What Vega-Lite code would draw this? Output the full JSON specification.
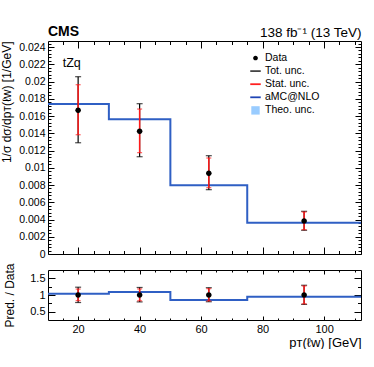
{
  "$schema": "https://vega.github.io/schema/vega-lite/v6.json",
  "padding": {"left": 0, "top": 24, "right": 0, "bottom": 0},
  "background": "white",
  "spacing": 16,
  "bounds": "flush",
  "config": {
    "font": "Liberation Sans",
    "view": {"stroke": null},
    "axis": {"grid": false, "domainColor": "black", "domainWidth": 1, "tickColor": "black", "tickWidth": 1, "labelColor": "black", "titleColor": "black", "labelFont": "Liberation Sans", "titleFont": "Liberation Sans", "labelFontSize": 10.5, "titleFontSize": 12, "titleFontWeight": "normal", "labelOverlap": false, "labelFlush": false, "labelPadding": 3}
  },
  "datasets": {
    "top_pts": [
      {"x": 20, "y": 0.01666, "tot_lo": 0.0129, "tot_hi": 0.02056, "stat_lo": 0.01383, "stat_hi": 0.01963, "series": "Data"},
      {"x": 40, "y": 0.01422, "tot_lo": 0.01128, "tot_hi": 0.01743, "stat_lo": 0.01175, "stat_hi": 0.01681, "series": "Data"},
      {"x": 62.5, "y": 0.00935, "tot_lo": 0.00746, "tot_hi": 0.0114, "stat_lo": 0.00769, "stat_hi": 0.01113, "series": "Data"},
      {"x": 93.5, "y": 0.00383, "tot_lo": 0.00275, "tot_hi": 0.00495, "stat_lo": 0.00282, "stat_hi": 0.00487, "series": "Data"}
    ],
    "top_pred": [
      {"x": 0, "y": 0.01739}, {"x": 30, "y": 0.01562}, {"x": 50, "y": 0.00797}, {"x": 75, "y": 0.00363}, {"x": 120, "y": 0.00363}
    ],
    "ratio_pts": [
      {"x": 20, "y": 1, "tot_lo": 0.774, "tot_hi": 1.234, "stat_lo": 0.83, "stat_hi": 1.178},
      {"x": 40, "y": 1, "tot_lo": 0.793, "tot_hi": 1.226, "stat_lo": 0.826, "stat_hi": 1.182},
      {"x": 62.5, "y": 1, "tot_lo": 0.798, "tot_hi": 1.219, "stat_lo": 0.822, "stat_hi": 1.19},
      {"x": 93.5, "y": 1, "tot_lo": 0.718, "tot_hi": 1.292, "stat_lo": 0.736, "stat_hi": 1.271}
    ],
    "ratio_pred": [
      {"x": 0, "y": 1.04}, {"x": 30, "y": 1.09}, {"x": 50, "y": 0.85}, {"x": 75, "y": 0.95}, {"x": 120, "y": 0.95}
    ],
    "label": [{"x": 15, "y": 0.0217, "t": "tZq"}]
  },
  "vconcat": [
    {
      "width": 313,
      "height": 213,
      "title": {"text": "CMS", "anchor": "start", "frame": "group", "fontSize": 14, "fontWeight": "bold", "font": "Liberation Sans", "color": "black", "dy": 13, "offset": 0},
      "resolve": {"axis": {"x": "independent", "y": "independent"}},
      "layer": [
        {
          "data": {"name": "top_pred"},
          "mark": {"type": "line", "interpolate": "step-after", "color": "#2f5fc4", "strokeWidth": 2, "clip": true},
          "encoding": {
            "x": {"field": "x", "type": "quantitative", "scale": {"domain": [10.2, 112], "nice": false, "zero": false},
              "axis": {"orient": "bottom", "values": [20, 40, 60, 80, 100], "tickSize": -7, "labels": false, "title": null}},
            "y": {"field": "y", "type": "quantitative", "scale": {"domain": [0, 0.0247], "nice": false, "zero": false},
              "axis": {"orient": "left", "values": [0, 0.002, 0.004, 0.006, 0.008, 0.01, 0.012, 0.014, 0.016, 0.018, 0.02, 0.022, 0.024], "tickSize": -6, "labelPadding": 9, "format": "~g", "title": "1/σ dσ/dpᴛ(ℓᴡ) [1/GeV]", "titleAnchor": "end", "titlePadding": 5}}
          }
        },
        {
          "data": {"name": "top_pts"},
          "mark": {"type": "rule", "color": "black", "strokeWidth": 1.2},
          "encoding": {
            "x": {"field": "x", "type": "quantitative", "scale": {"domain": [10.2, 112], "nice": false, "zero": false},
              "axis": {"orient": "top", "values": [20, 40, 60, 80, 100], "tickSize": -7, "labels": false, "title": "138 fb⁻¹ (13 TeV)", "titleAnchor": "end", "titleFontSize": 13.5, "titlePadding": 4, "titleBaseline": "alphabetic"}},
            "y": {"field": "tot_lo", "type": "quantitative", "scale": {"domain": [0, 0.0247], "nice": false, "zero": false},
              "axis": {"orient": "right", "values": [0, 0.002, 0.004, 0.006, 0.008, 0.01, 0.012, 0.014, 0.016, 0.018, 0.02, 0.022, 0.024], "tickSize": -6, "labels": false, "title": null}},
            "y2": {"field": "tot_hi"}
          }
        },
        {
          "data": {"name": "top_pts"},
          "mark": {"type": "tick", "orient": "horizontal", "color": "black", "size": 6, "thickness": 1.2},
          "encoding": {
            "x": {"field": "x", "type": "quantitative", "scale": {"domain": [10.2, 112], "nice": false, "zero": false},
              "axis": {"orient": "bottom", "values": [15, 25, 30, 35, 45, 50, 55, 65, 70, 75, 85, 90, 95, 105, 110], "tickSize": -3.5, "labels": false, "domain": false, "title": null}},
            "y": {"field": "tot_lo", "type": "quantitative", "scale": {"domain": [0, 0.0247], "nice": false, "zero": false},
              "axis": {"orient": "left", "values": [0.0004, 0.0008, 0.0012, 0.0016, 0.0024, 0.0028, 0.0032, 0.0036, 0.0044, 0.0048, 0.0052, 0.0056, 0.0064, 0.0068, 0.0072, 0.0076, 0.0084, 0.0088, 0.0092, 0.0096, 0.0104, 0.0108, 0.0112, 0.0116, 0.0124, 0.0128, 0.0132, 0.0136, 0.0144, 0.0148, 0.0152, 0.0156, 0.0164, 0.0168, 0.0172, 0.0176, 0.0184, 0.0188, 0.0192, 0.0196, 0.0204, 0.0208, 0.0212, 0.0216, 0.0224, 0.0228, 0.0232, 0.0236, 0.0244], "tickSize": -3, "labels": false, "domain": false, "title": null}}
          }
        },
        {
          "data": {"name": "top_pts"},
          "mark": {"type": "tick", "orient": "horizontal", "color": "black", "size": 6, "thickness": 1.2},
          "encoding": {
            "x": {"field": "x", "type": "quantitative", "scale": {"domain": [10.2, 112], "nice": false, "zero": false},
              "axis": {"orient": "top", "values": [15, 25, 30, 35, 45, 50, 55, 65, 70, 75, 85, 90, 95, 105, 110], "tickSize": -3.5, "labels": false, "domain": false, "title": null}},
            "y": {"field": "tot_hi", "type": "quantitative", "scale": {"domain": [0, 0.0247], "nice": false, "zero": false},
              "axis": {"orient": "right", "values": [0.0004, 0.0008, 0.0012, 0.0016, 0.0024, 0.0028, 0.0032, 0.0036, 0.0044, 0.0048, 0.0052, 0.0056, 0.0064, 0.0068, 0.0072, 0.0076, 0.0084, 0.0088, 0.0092, 0.0096, 0.0104, 0.0108, 0.0112, 0.0116, 0.0124, 0.0128, 0.0132, 0.0136, 0.0144, 0.0148, 0.0152, 0.0156, 0.0164, 0.0168, 0.0172, 0.0176, 0.0184, 0.0188, 0.0192, 0.0196, 0.0204, 0.0208, 0.0212, 0.0216, 0.0224, 0.0228, 0.0232, 0.0236, 0.0244], "tickSize": -3, "labels": false, "domain": false, "title": null}}
          }
        },
        {
          "data": {"name": "top_pts"},
          "mark": {"type": "rule", "color": "#ff1a1a", "strokeWidth": 1.5},
          "encoding": {
            "x": {"field": "x", "type": "quantitative", "scale": {"domain": [10.2, 112], "nice": false, "zero": false}, "axis": null},
            "y": {"field": "stat_lo", "type": "quantitative", "scale": {"domain": [0, 0.0247], "nice": false, "zero": false}, "axis": null},
            "y2": {"field": "stat_hi"}
          }
        },
        {
          "data": {"name": "top_pts"},
          "mark": {"type": "tick", "orient": "horizontal", "color": "#ff1a1a", "size": 5, "thickness": 1.2},
          "encoding": {
            "x": {"field": "x", "type": "quantitative", "scale": {"domain": [10.2, 112], "nice": false, "zero": false}, "axis": null},
            "y": {"field": "stat_lo", "type": "quantitative", "scale": {"domain": [0, 0.0247], "nice": false, "zero": false}, "axis": null}
          }
        },
        {
          "data": {"name": "top_pts"},
          "mark": {"type": "tick", "orient": "horizontal", "color": "#ff1a1a", "size": 5, "thickness": 1.2},
          "encoding": {
            "x": {"field": "x", "type": "quantitative", "scale": {"domain": [10.2, 112], "nice": false, "zero": false}, "axis": null},
            "y": {"field": "stat_hi", "type": "quantitative", "scale": {"domain": [0, 0.0247], "nice": false, "zero": false}, "axis": null}
          }
        },
        {
          "data": {"name": "top_pts"},
          "mark": {"type": "point", "filled": true, "size": 155, "opacity": 1, "strokeWidth": 0},
          "encoding": {
            "x": {"field": "x", "type": "quantitative", "scale": {"domain": [10.2, 112], "nice": false, "zero": false}, "axis": null},
            "y": {"field": "y", "type": "quantitative", "scale": {"domain": [0, 0.0247], "nice": false, "zero": false}, "axis": null},
            "color": {"field": "series", "type": "nominal",
              "scale": {"domain": ["Data", "Tot. unc.", "Stat. unc.", "aMC@NLO", "Theo. unc."], "range": ["black", "#444444", "#ff2020", "#1f45b5", "#99ccff"]},
              "legend": {"title": null, "orient": "none", "legendX": 202, "legendY": 11.5, "symbolSize": 110, "labelFontSize": 10.5, "labelFont": "Liberation Sans", "labelColor": "black", "rowPadding": 2.1, "labelOffset": 4, "symbolStrokeWidth": 0, "symbolOpacity": 1}},
            "shape": {"field": "series", "type": "nominal",
              "scale": {"domain": ["Data", "Tot. unc.", "Stat. unc.", "aMC@NLO", "Theo. unc."], "range": ["M-0.45,0A0.45,0.45 0 1,0 0.45,0A0.45,0.45 0 1,0 -0.45,0Z", "M-1,-0.17H1V0.17H-1Z", "M-1,-0.17H1V0.17H-1Z", "M-1,-0.17H1V0.17H-1Z", "M-0.8,-0.8H0.8V0.8H-0.8Z"]},
              "legend": {"title": null, "orient": "none", "legendX": 202, "legendY": 11.5, "symbolSize": 110, "labelFontSize": 10.5, "labelFont": "Liberation Sans", "labelColor": "black", "rowPadding": 2.1, "labelOffset": 4, "symbolStrokeWidth": 0, "symbolOpacity": 1}}
          }
        },
        {
          "data": {"name": "label"},
          "mark": {"type": "text", "align": "left", "baseline": "alphabetic", "fontSize": 12.5, "font": "Liberation Sans", "color": "black"},
          "encoding": {
            "x": {"field": "x", "type": "quantitative", "scale": {"domain": [10.2, 112], "nice": false, "zero": false}, "axis": null},
            "y": {"field": "y", "type": "quantitative", "scale": {"domain": [0, 0.0247], "nice": false, "zero": false}, "axis": null},
            "text": {"field": "t"}
          }
        }
      ]
    },
    {
      "width": 313,
      "height": 50,
      "resolve": {"axis": {"x": "independent", "y": "independent"}},
      "layer": [
        {
          "data": {"name": "ratio_pred"},
          "mark": {"type": "line", "interpolate": "step-after", "color": "#2f5fc4", "strokeWidth": 2, "clip": true},
          "encoding": {
            "x": {"field": "x", "type": "quantitative", "scale": {"domain": [10.2, 112], "nice": false, "zero": false},
              "axis": {"orient": "bottom", "values": [20, 40, 60, 80, 100], "tickSize": -4, "labelPadding": 7, "labelFontSize": 11, "title": "pᴛ(ℓᴡ) [GeV]", "titleAnchor": "end", "titleFontSize": 13, "titlePadding": 2}},
            "y": {"field": "y", "type": "quantitative", "scale": {"domain": [0.25, 1.75], "nice": false, "zero": false},
              "axis": {"orient": "left", "values": [0.5, 1, 1.5], "tickSize": -7, "labelPadding": 10, "format": "~g", "labelFontSize": 11, "title": "Pred. / Data", "titlePadding": 13}}
          }
        },
        {
          "data": {"name": "ratio_pts"},
          "mark": {"type": "rule", "color": "black", "strokeWidth": 1.2},
          "encoding": {
            "x": {"field": "x", "type": "quantitative", "scale": {"domain": [10.2, 112], "nice": false, "zero": false},
              "axis": {"orient": "top", "values": [20, 40, 60, 80, 100], "tickSize": -4, "labels": false, "title": null}},
            "y": {"field": "tot_lo", "type": "quantitative", "scale": {"domain": [0.25, 1.75], "nice": false, "zero": false},
              "axis": {"orient": "right", "values": [0.5, 1, 1.5], "tickSize": -7, "labels": false, "title": null}},
            "y2": {"field": "tot_hi"}
          }
        },
        {
          "data": {"name": "ratio_pts"},
          "mark": {"type": "tick", "orient": "horizontal", "color": "black", "size": 6, "thickness": 1.2},
          "encoding": {
            "x": {"field": "x", "type": "quantitative", "scale": {"domain": [10.2, 112], "nice": false, "zero": false},
              "axis": {"orient": "bottom", "values": [15, 25, 30, 35, 45, 50, 55, 65, 70, 75, 85, 90, 95, 105, 110], "tickSize": -2, "labels": false, "domain": false, "title": null}},
            "y": {"field": "tot_lo", "type": "quantitative", "scale": {"domain": [0.25, 1.75], "nice": false, "zero": false},
              "axis": {"orient": "left", "values": [0.75, 1.25], "tickSize": -3.5, "labels": false, "domain": false, "title": null}}
          }
        },
        {
          "data": {"name": "ratio_pts"},
          "mark": {"type": "tick", "orient": "horizontal", "color": "black", "size": 6, "thickness": 1.2},
          "encoding": {
            "x": {"field": "x", "type": "quantitative", "scale": {"domain": [10.2, 112], "nice": false, "zero": false},
              "axis": {"orient": "top", "values": [15, 25, 30, 35, 45, 50, 55, 65, 70, 75, 85, 90, 95, 105, 110], "tickSize": -2, "labels": false, "domain": false, "title": null}},
            "y": {"field": "tot_hi", "type": "quantitative", "scale": {"domain": [0.25, 1.75], "nice": false, "zero": false},
              "axis": {"orient": "right", "values": [0.75, 1.25], "tickSize": -3.5, "labels": false, "domain": false, "title": null}}
          }
        },
        {
          "data": {"name": "ratio_pts"},
          "mark": {"type": "rule", "color": "#ff1a1a", "strokeWidth": 1.5},
          "encoding": {
            "x": {"field": "x", "type": "quantitative", "scale": {"domain": [10.2, 112], "nice": false, "zero": false}, "axis": null},
            "y": {"field": "stat_lo", "type": "quantitative", "scale": {"domain": [0.25, 1.75], "nice": false, "zero": false}, "axis": null},
            "y2": {"field": "stat_hi"}
          }
        },
        {
          "data": {"name": "ratio_pts"},
          "mark": {"type": "tick", "orient": "horizontal", "color": "#ff1a1a", "size": 5, "thickness": 1.2},
          "encoding": {
            "x": {"field": "x", "type": "quantitative", "scale": {"domain": [10.2, 112], "nice": false, "zero": false}, "axis": null},
            "y": {"field": "stat_lo", "type": "quantitative", "scale": {"domain": [0.25, 1.75], "nice": false, "zero": false}, "axis": null}
          }
        },
        {
          "data": {"name": "ratio_pts"},
          "mark": {"type": "tick", "orient": "horizontal", "color": "#ff1a1a", "size": 5, "thickness": 1.2},
          "encoding": {
            "x": {"field": "x", "type": "quantitative", "scale": {"domain": [10.2, 112], "nice": false, "zero": false}, "axis": null},
            "y": {"field": "stat_hi", "type": "quantitative", "scale": {"domain": [0.25, 1.75], "nice": false, "zero": false}, "axis": null}
          }
        },
        {
          "data": {"name": "ratio_pts"},
          "mark": {"type": "point", "filled": true, "size": 155, "opacity": 1, "strokeWidth": 0, "color": "black", "shape": "M-0.45,0A0.45,0.45 0 1,0 0.45,0A0.45,0.45 0 1,0 -0.45,0Z"},
          "encoding": {
            "x": {"field": "x", "type": "quantitative", "scale": {"domain": [10.2, 112], "nice": false, "zero": false}, "axis": null},
            "y": {"field": "y", "type": "quantitative", "scale": {"domain": [0.25, 1.75], "nice": false, "zero": false}, "axis": null}
          }
        }
      ]
    }
  ]
}
